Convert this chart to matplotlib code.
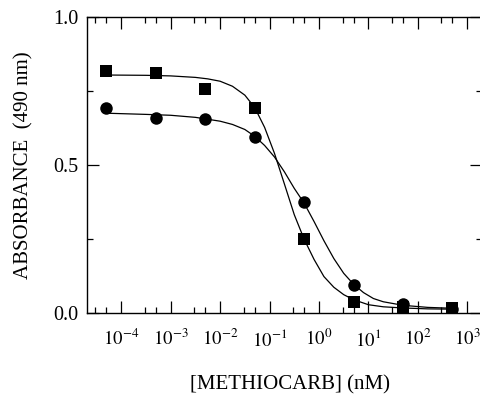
import matplotlib
matplotlib.use("Agg")
import matplotlib.pyplot as plt
import numpy as np
from matplotlib.ticker import LogLocator, FixedLocator, NullFormatter

plt.rcParams['font.family'] = ['Liberation Serif', 'DejaVu Serif']
plt.rcParams['mathtext.fontset'] = 'stix'

# measured data points
conc = [5e-5, 5e-4, 5e-3, 5e-2, 5e-1, 5, 50, 500]
squares = [0.820, 0.813, 0.758, 0.695, 0.251, 0.038, 0.020, 0.017]
circles = [0.695, 0.661, 0.656, 0.597, 0.377, 0.096, 0.031, 0.016]

# fitted curves (log10 concentration, absorbance)
sq_curve_logx = [-4.30, -3.50, -3.00, -2.50, -2.25, -2.00, -1.75, -1.50, -1.30, -1.10,
                 -0.90, -0.70, -0.50, -0.30, -0.10, 0.10, 0.30, 0.50, 0.70, 1.00,
                 1.30, 1.70, 2.20, 2.70]
sq_curve_y = [0.805, 0.804, 0.802, 0.797, 0.792, 0.784, 0.767, 0.737, 0.695, 0.628,
              0.540, 0.437, 0.333, 0.250, 0.182, 0.124, 0.088, 0.063, 0.046, 0.029,
              0.022, 0.018, 0.015, 0.014]
ci_curve_logx = [-4.30, -3.50, -3.00, -2.50, -2.00, -1.75, -1.50, -1.30, -1.10, -0.90,
                 -0.70, -0.50, -0.30, -0.10, 0.10, 0.30, 0.50, 0.70, 0.90, 1.10,
                 1.30, 1.70, 2.20, 2.70]
ci_curve_y = [0.676, 0.672, 0.669, 0.662, 0.649, 0.638, 0.621, 0.598, 0.567, 0.528,
              0.478, 0.422, 0.372, 0.310, 0.245, 0.185, 0.135, 0.098, 0.070, 0.050,
              0.039, 0.027, 0.020, 0.017]

xticks = [1e-4, 1e-3, 1e-2, 1e-1, 1e0, 1e1, 1e2, 1e3]
xticklabels = [r'$10^{-4}$', r'$10^{-3}$', r'$10^{-2}$', r'$10^{-1}$',
               r'$10^{0}$', r'$10^{1}$', r'$10^{2}$', r'$10^{3}$']
yticks = [0.0, 0.5, 1.0]
yticklabels = ['0.0', '0.5', '1.0']

fig = plt.figure(figsize=(4.8, 3.94), dpi=100)
ax = fig.add_axes([0.1806, 0.2048, 0.824, 0.7513])

ax.plot(10 ** np.array(sq_curve_logx), sq_curve_y, color='black', lw=0.9, zorder=2)
ax.plot(10 ** np.array(ci_curve_logx), ci_curve_y, color='black', lw=0.9, zorder=2)
ax.plot(conc, circles, 'o', color='black', ms=9, zorder=3, markeredgewidth=0)
ax.plot(conc, squares, 's', color='black', ms=8, zorder=4, markeredgewidth=0)

ax.set_xscale('log')
ax.set_xlim(2e-5, 2e3)
ax.set_ylim(0, 1.0)

ax.xaxis.set_major_locator(FixedLocator(xticks))
ax.set_xticklabels(xticklabels)
ax.xaxis.set_minor_locator(LogLocator(base=10, subs=[3.0, 5.0], numticks=20))
ax.xaxis.set_minor_formatter(NullFormatter())
ax.set_yticks(yticks)
ax.set_yticklabels(yticklabels)
ax.yaxis.set_minor_locator(FixedLocator([0.25, 0.75]))

ax.tick_params(which='both', direction='in', top=True, right=True, width=0.9, color='black')
ax.tick_params(which='major', length=8.5)
ax.tick_params(axis='x', which='major', pad=11, labelsize=13.5)
ax.tick_params(axis='y', which='major', pad=6, labelsize=14.5)
ax.tick_params(which='minor', length=4.5)
for s in ax.spines.values():
    s.set_linewidth(1.0)

fig.text(290 / 480, 1 - 385 / 394, '[METHIOCARB] (nM)', ha='center', va='center', fontsize=15)
fig.text(24 / 480, 1 - 165 / 394, 'ABSORBANCE  (490 nm)', ha='center', va='center',
         rotation=90, fontsize=15)

fig.savefig('out.png', dpi=100)
